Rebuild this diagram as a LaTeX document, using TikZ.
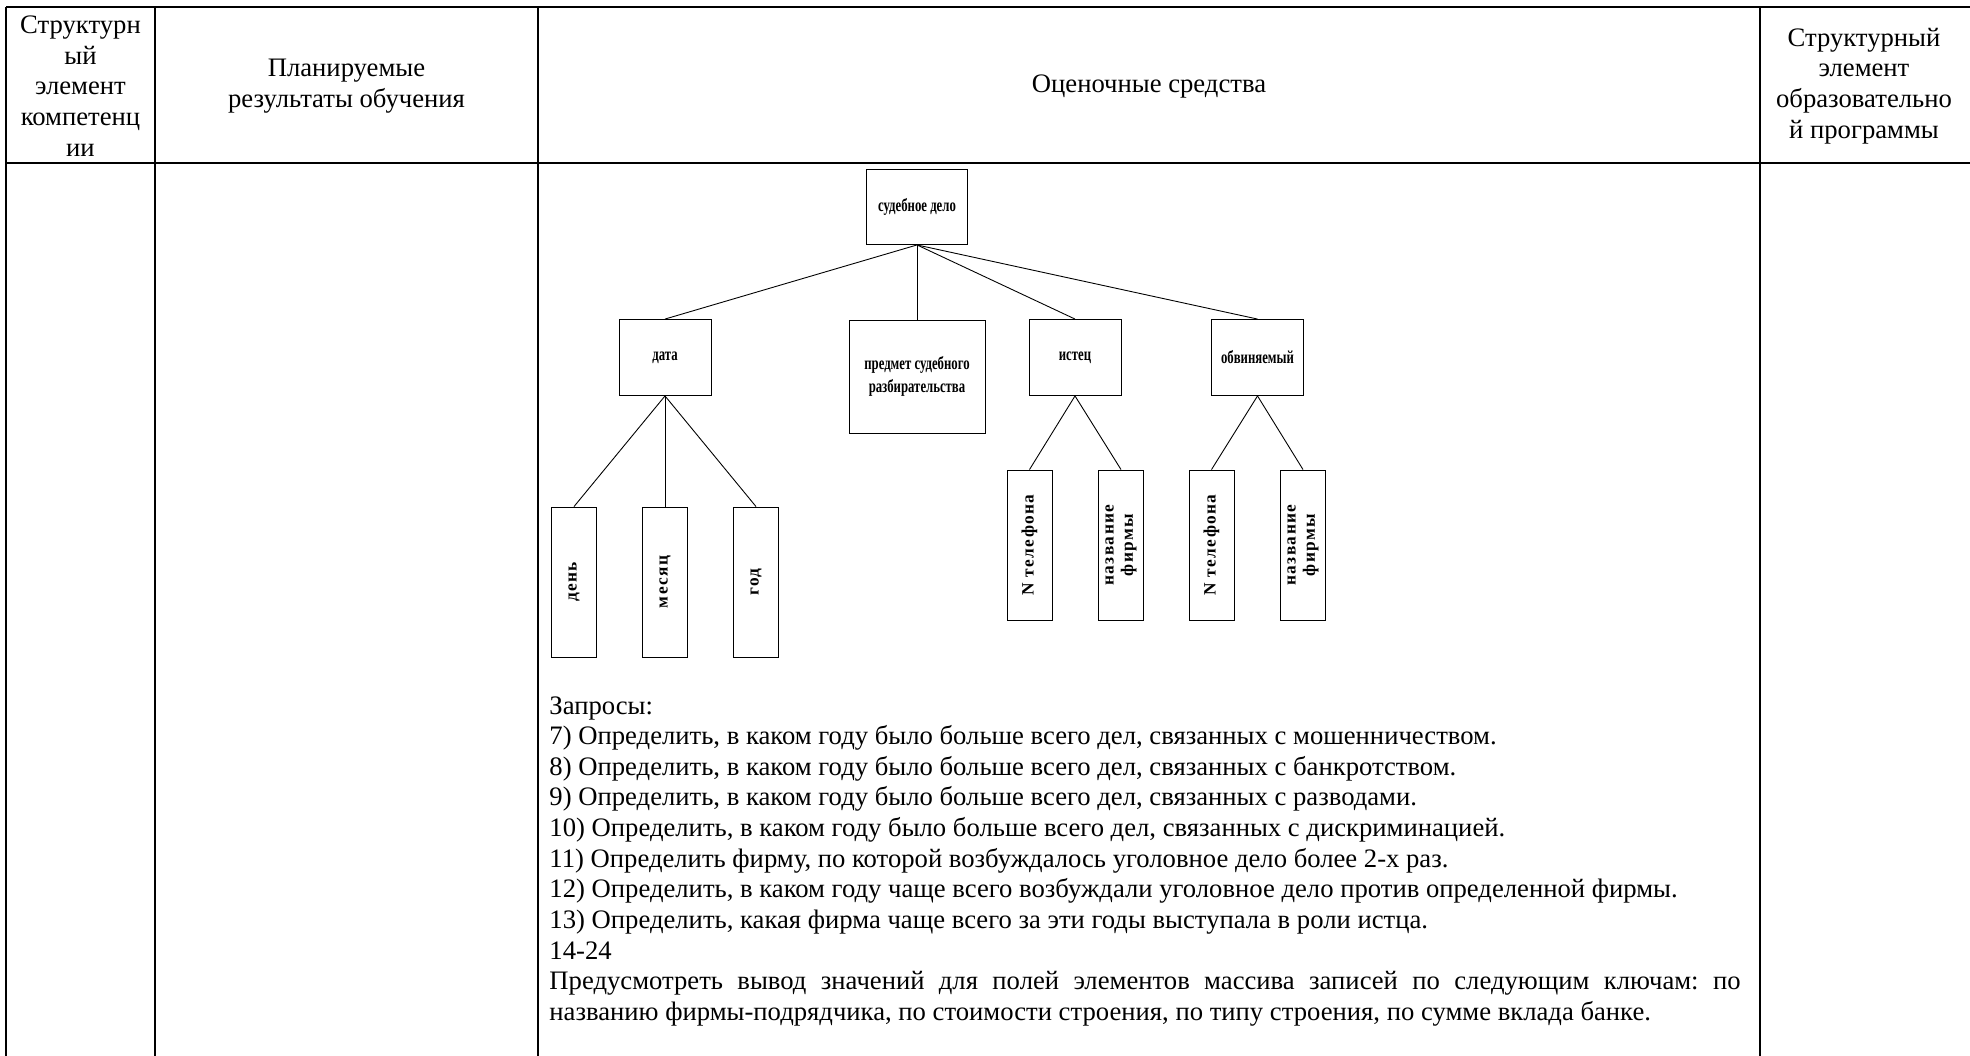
\documentclass[tikz,border=0pt]{standalone}
\usepackage{fontspec}
\usepackage{graphicx}
\setmainfont{Liberation Serif}
\newfontfamily\treefont[FakeStretch=0.7]{Liberation Serif}
\newfontfamily\leaffont[LetterSpace=8]{Liberation Serif}
\frenchspacing

\begin{document}
\begin{tikzpicture}[x=0.45pt,y=-0.45pt]
            \tikzstyle{hd}=[align=center,inner sep=0pt,font=\fontsize{12}{13.8}\selectfont]
            \tikzstyle{tb}=[rectangle,draw,thin,inner sep=0pt,align=center,font=\treefont\bfseries\fontsize{8.2}{10}\selectfont]
            \tikzstyle{lb}=[rectangle,draw,thin,inner sep=0pt,minimum width=20.25pt,minimum height=67.5pt,font=\leaffont\bfseries\fontsize{7.8}{8.6}\selectfont]
            \tikzstyle{gr}=[line width=0.8pt]
            \tikzstyle{tx}=[anchor=base west,inner sep=0pt,font=\fontsize{12}{13.8}\selectfont]

            \useasboundingbox (0,0) rectangle (1970,1056);

            % table frame
            \draw[gr] (6,7) -- (1970,7);
            \draw[gr] (6,163) -- (1970,163);
            \foreach \x in {6,155,538,1760}
              \draw[gr] (\x,7) -- (\x,1056);

            % header
            \node [hd] (h1) at (80.5,86) {Структурн\\ый\\элемент\\компетенц\\ии};
            \node [hd] (h2) at (346.5,86) {Планируемые\\результаты обучения};
            \node [hd] (h3) at (1149,87) {Оценочные средства};
            \node [hd] (h4) at (1864,86) {Структурный\\элемент\\образовательно\\й программы};

            % tree
            \node [tb,minimum width=45.5pt,minimum height=33.75pt] (delo) at (917,207) {судебное дело};
            \node [tb,minimum width=41.4pt,minimum height=34.2pt] (data) at (665,357.5) {дата};
            \node [tb,minimum width=61.2pt,minimum height=50.85pt] (predmet) at (917,376.5) {предмет судебного\\разбирательства};
            \node [tb,minimum width=41.4pt,minimum height=34.2pt] (istec) at (1075,357.5) {истец};
            \node [tb,minimum width=41.4pt,minimum height=34.2pt] (obv) at (1257.5,357.5) {обвиняемый};

            \node [lb] (den) at (574,582) {\rotatebox{90}{день}};
            \node [lb] (mes) at (665,582) {\rotatebox{90}{месяц}};
            \node [lb] (god) at (756,582) {\rotatebox{90}{год}};
            \node [lb] (tel1) at (1029.5,545) {\rotatebox{90}{N телефона}};
            \node [lb] (firm1) at (1121,545) {\rotatebox{90}{\parbox{60pt}{\centering название\\фирмы}}};
            \node [lb] (tel2) at (1211.5,545) {\rotatebox{90}{N телефона}};
            \node [lb] (firm2) at (1303,545) {\rotatebox{90}{\parbox{60pt}{\centering название\\фирмы}}};

            \draw[thin] (delo.south) -- (data.north);
            \draw[thin] (delo.south) -- (predmet.north);
            \draw[thin] (delo.south) -- (istec.north);
            \draw[thin] (delo.south) -- (obv.north);
            \draw[thin] (data.south) -- (den.north);
            \draw[thin] (data.south) -- (mes.north);
            \draw[thin] (data.south) -- (god.north);
            \draw[thin] (istec.south) -- (tel1.north);
            \draw[thin] (istec.south) -- (firm1.north);
            \draw[thin] (obv.south) -- (tel2.north);
            \draw[thin] (obv.south) -- (firm2.north);

            % queries
            \foreach \t [count=\i] in {{Запросы:},
                {7) Определить, в каком году было больше всего дел, связанных с мошенничеством.},
                {8) Определить, в каком году было больше всего дел, связанных с банкротством.},
                {9) Определить, в каком году было больше всего дел, связанных с разводами.},
                {10) Определить, в каком году было больше всего дел, связанных с дискриминацией.},
                {11) Определить фирму, по которой возбуждалось уголовное дело более 2-х раз.},
                {12) Определить, в каком году чаще всего возбуждали уголовное дело против определенной фирмы.},
                {13) Определить, какая фирма чаще всего за эти годы выступала в роли истца.},
                {14-24},
                {\makebox[536pt][s]{Предусмотреть вывод значений для полей элементов массива записей по следующим ключам: по}},
                {названию фирмы-подрядчика, по стоимости строения, по типу строения, по сумме вклада банке.}}
              \node [tx] (q\i) at (549,{714+(\i-1)*30.66}) {\t};
\end{tikzpicture}
\end{document}
